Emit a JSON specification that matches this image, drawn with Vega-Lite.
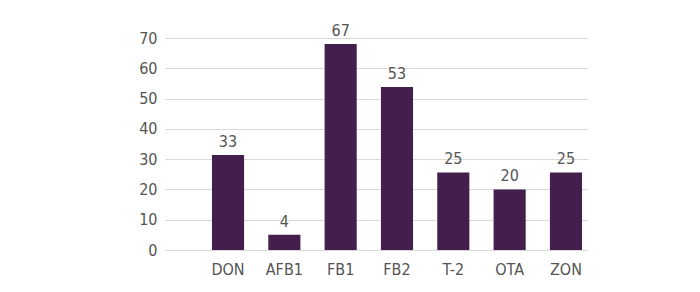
{
  "$schema": "https://vega.github.io/schema/vega-lite/v6.json",
  "width": 423,
  "height": 212,
  "autosize": {"type": "none"},
  "padding": {"left": 165, "top": 38, "right": 112, "bottom": 42},
  "background": "white",
  "config": {"view": {"stroke": null}},
  "data": {
    "values": [
      {"toxin": "DON", "value": 31.4, "label": "33"},
      {"toxin": "AFB1", "value": 5, "label": "4"},
      {"toxin": "FB1", "value": 68, "label": "67"},
      {"toxin": "FB2", "value": 53.8, "label": "53"},
      {"toxin": "T-2", "value": 25.6, "label": "25"},
      {"toxin": "OTA", "value": 20, "label": "20"},
      {"toxin": "ZON", "value": 25.6, "label": "25"}
    ]
  },
  "encoding": {
    "x": {
      "field": "toxin",
      "type": "nominal",
      "sort": null,
      "scale": {"paddingInner": 0.43, "paddingOuter": 0.47, "align": 0.887},
      "axis": {
        "title": null,
        "labelAngle": 0,
        "domain": false,
        "ticks": false,
        "labelPadding": 11,
        "labelFont": "DejaVu Sans Condensed",
        "labelFontSize": 16,
        "labelColor": "#555555"
      }
    },
    "y": {
      "field": "value",
      "type": "quantitative",
      "scale": {"domain": [0, 70]},
      "axis": {
        "title": null,
        "values": [0, 10, 20, 30, 40, 50, 60, 70],
        "domain": false,
        "ticks": false,
        "grid": true,
        "gridColor": "#d9d9d9",
        "gridWidth": 1,
        "labelPadding": 8,
        "labelFont": "DejaVu Sans Condensed",
        "labelFontSize": 16,
        "labelColor": "#555555"
      }
    }
  },
  "layer": [
    {"mark": {"type": "bar", "color": "#441e4d"}},
    {
      "mark": {
        "type": "text",
        "baseline": "bottom",
        "dy": -5,
        "font": "DejaVu Sans Condensed",
        "fontSize": 16,
        "color": "#555555"
      },
      "encoding": {"text": {"field": "label"}}
    }
  ]
}
